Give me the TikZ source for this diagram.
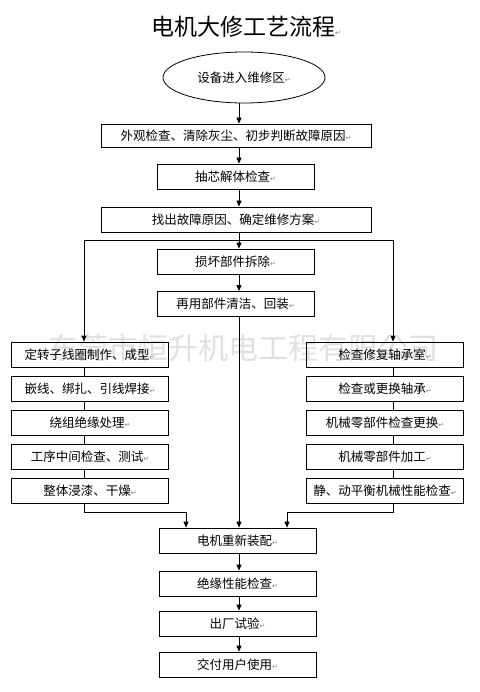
\documentclass[tikz,border=0pt]{standalone}
\usepackage{fontspec}
\newfontfamily\cjk{Noto Sans CJK SC}
\newfontfamily\symfont{DejaVu Sans}
\usetikzlibrary{arrows.meta,shapes,calc}
\newcommand{\retmark}{{\symfont\color{gray}\fontsize{7}{7}\selectfont ↵}}
\tikzstyle{procbox}=[draw,line width=0.8pt,minimum width=157pt,minimum height=25pt,inner sep=0pt,font=\cjk\fontsize{12.5}{14}\selectfont]
\tikzstyle{widebox}=[procbox,minimum width=270pt,minimum height=24pt]
\tikzstyle{startnode}=[ellipse,draw,line width=0.8pt,minimum width=162pt,minimum height=51pt,inner sep=0pt,font=\cjk\fontsize{12.5}{14}\selectfont]
\tikzstyle{edge} = [draw,line width=0.8pt,-{Triangle[length=6pt,width=5pt]}]
\tikzstyle{line} = [draw,line width=0.8pt]

\begin{document}
\begin{tikzpicture}[x=1pt,y=-1pt]
    \useasboundingbox (0,0) rectangle (479,692);
    % watermark behind everything
    \node[font=\cjk\fontsize{30}{32}\selectfont,text=black!12] (mark) at (243,348) {东莞市恒升机电工程有限公司};
    % title and start
    \node[font=\cjk\fontsize{23}{25}\selectfont] (title) at (246,27) {电机大修工艺流程\retmark};
    \node[startnode] (start) at (244,77.5) {设备进入维修区\retmark};
    % helper points for the trunk and the two branches
    \coordinate (axis) at (239,0);
    \coordinate (splitL) at (84,240);
    \coordinate (splitR) at (393,240);
    \coordinate (dropL) at (186,512);
    \coordinate (dropR) at (287,512);

    % the middle chain
    \node[widebox,minimum height=23pt] (b1) at (236,135.5) {外观检查、清除灰尘、初步判断故障原因\retmark};
    \foreach \pos/\name/\label in {{(235.5,176.5)/b2/抽芯解体检查}, {(235.5,261.5)/b4/损坏部件拆除}, {(235.5,304)/b5/再用部件清洁、回装}}
        \node[procbox] (\name) at \pos {\label\retmark};
    \node[widebox,minimum height=25pt] (b3) at (236,219.5) {找出故障原因、确定维修方案\retmark};

    % left and right columns
    \foreach \pos/\name/\label in {{(90,354.5)/L1/定转子线圈制作、成型}, {(90,388.5)/L2/嵌线、绑扎、引线焊接}, {(90,422.5)/L3/绕组绝缘处理}, {(90,456.5)/L4/工序中间检查、测试}, {(90,490.5)/L5/整体浸漆、干燥},
        {(385,354.5)/R1/检查修复轴承室}, {(385,388.5)/R2/检查或更换轴承}, {(385,422.5)/R3/机械零部件检查更换}, {(385,456.5)/R4/机械零部件加工}, {(385,490.5)/R5/静、动平衡机械性能检查}}
        \node[procbox] (\name) at \pos {\label\retmark};

    % the final chain
    \foreach \pos/\name/\label in {{(237.5,540.5)/r1/电机重新装配}, {(237.5,583.5)/r2/绝缘性能检查}, {(237.5,623.5)/r3/出厂试验}, {(237.5,664.5)/r4/交付用户使用}}
        \node[procbox] (\name) at \pos {\label\retmark};

    % Connect the middle chain
    \foreach \source/ \dest in {start/b1, b1/b2, b2/b3, b3/b4, b4/b5, b5/r1, r1/r2, r2/r3, r3/r4}
        \path[edge] (\source.south -| axis) -- (\dest.north -| axis);

    % branch out to both columns
    \path[line] (splitL) -- (splitR);
    \path[edge] (splitL) -- (L1.north -| splitL);
    \path[edge] (splitR) -- (R1.north -| splitR);
    \foreach \source/ \dest in {L1/L2, L2/L3, L3/L4, L4/L5}
        \path[line] (\source.south -| splitL) -- (\dest.north -| splitL);
    \foreach \source/ \dest in {R1/R2, R2/R3, R3/R4, R4/R5}
        \path[line] (\source.south -| splitR) -- (\dest.north -| splitR);

    % merge back into the assembly
    \path[line] (L5.south -| splitL) |- (dropL);
    \path[edge] (dropL) -- (r1.north -| dropL);
    \path[line] (R5.south -| splitR) |- (dropR);
    \path[edge] (dropR) -- (r1.north -| dropR);
\end{tikzpicture}
\end{document}
